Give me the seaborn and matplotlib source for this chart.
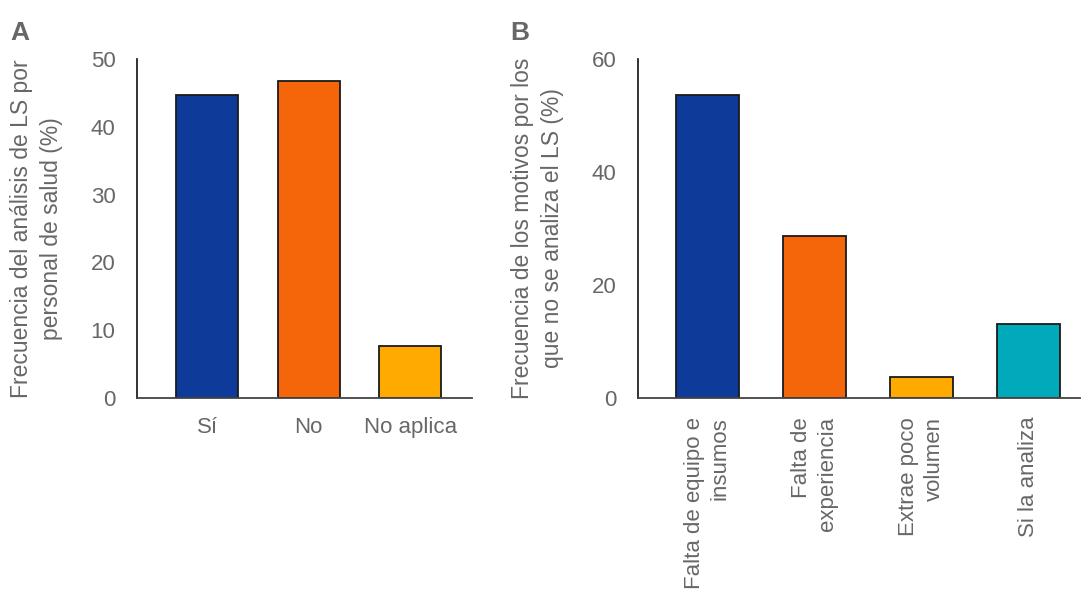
import matplotlib
matplotlib.use("Agg")
import matplotlib.pyplot as plt
import seaborn as sns
import pandas as pd

# panel A
cats_a = ["Sí", "No", "No aplica"]
vals_a = [44.7, 46.7, 7.7]
colors_a = ["#0e3a99", "#f5660a", "#ffaa00"]

# panel B
cats_b = ["Falta de equipo e\ninsumos", "Falta de\nexperiencia", "Extrae poco\nvolumen", "Si la analiza"]
vals_b = [53.6, 28.6, 3.7, 13.1]
colors_b = ["#0e3a99", "#f5660a", "#ffaa00", "#00aabb"]

sns.set_style("white")
plt.rcParams['font.family'] = ['Liberation Sans', 'DejaVu Sans']
gray = "#676767"

fig = plt.figure(figsize=(10.89, 5.90), dpi=100)
ax1 = fig.add_axes([137/1089, 1-398/590, (472-137)/1089, (398-59)/590])
ax2 = fig.add_axes([638/1089, 1-398/590, (1080-638)/1089, (398-59)/590])

df_a = pd.DataFrame({"cat": cats_a, "val": vals_a})
df_b = pd.DataFrame({"cat": cats_b, "val": vals_b})

sns.barplot(data=df_a, x="cat", y="val", hue="cat", palette=colors_a, legend=False, saturation=1,
            width=0.61, edgecolor="#1a1a1a", linewidth=1.3, ax=ax1)
sns.barplot(data=df_b, x="cat", y="val", hue="cat", palette=colors_b, legend=False, saturation=1,
            width=0.59, edgecolor="#1a1a1a", linewidth=1.3, ax=ax2)

for ax in (ax1, ax2):
    sns.despine(ax=ax)
    ax.spines["left"].set_color("#222222")
    ax.spines["bottom"].set_color("#444444")
    ax.spines["left"].set_linewidth(1.3)
    ax.spines["bottom"].set_linewidth(1.3)
    ax.tick_params(axis="y", length=12.5, width=1.3, color="#222222", labelsize=16, labelcolor=gray, pad=3)
    ax.tick_params(axis="x", length=8.5, width=1.3, color="#222222", labelsize=16, labelcolor=gray, pad=5)
    ax.set_xlabel("")

ax1.set_ylim(0, 50)
ax1.set_yticks([0, 10, 20, 30, 40, 50])
ax1.set_xlim(-0.69, 2.61)
ax1.spines["left"].set_bounds(0, 50)
ax1.set_ylabel("Frecuencia del análisis de LS por\npersonal de salud (%)", fontsize=16.5, color=gray,
               labelpad=20, linespacing=1.4)

ax2.set_ylim(0, 60)
ax2.set_yticks([0, 20, 40, 60])
ax2.set_xlim(-0.65, 3.48)
ax2.spines["left"].set_bounds(0, 60)
ax2.set_ylabel("Frecuencia de los motivos por los\nque no se analiza el LS (%)", fontsize=16.5, color=gray,
               labelpad=20, linespacing=1.4)
for lbl in ax2.get_xticklabels():
    lbl.set_rotation(90)
    lbl.set_ha("center")
    lbl.set_va("top")
    lbl.set_multialignment("right")
    lbl.set_linespacing(1.3)

fig.text(10/1089, 1-40/590, "A", fontsize=19, fontweight="bold", color=gray)
fig.text(510/1089, 1-40/590, "B", fontsize=19, fontweight="bold", color=gray)

fig.savefig("out.png", dpi=100)
